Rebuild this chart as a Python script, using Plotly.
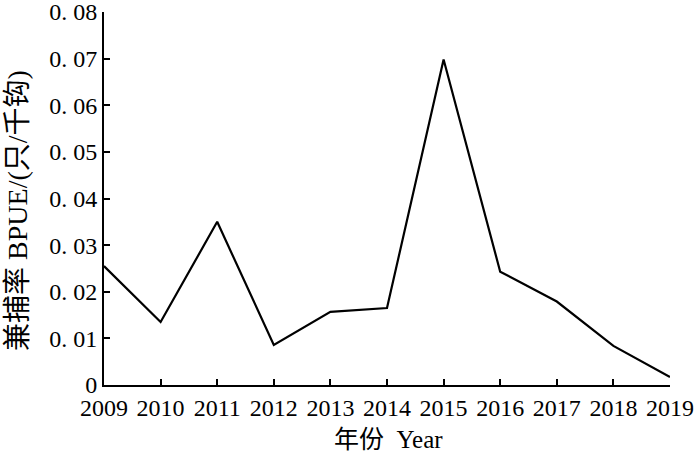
import plotly.graph_objects as go

# bycatch rate per year
years = [2009, 2010, 2011, 2012, 2013, 2014, 2015, 2016, 2017, 2018, 2019]
bpue = [0.0255, 0.0135, 0.0350, 0.0086, 0.0157, 0.0165, 0.0698, 0.0243, 0.0179, 0.0084, 0.0017]

ytick_vals = [0, 0.01, 0.02, 0.03, 0.04, 0.05, 0.06, 0.07, 0.08]
ytick_text = ["0", "0. 01", "0. 02", "0. 03", "0. 04", "0. 05", "0. 06", "0. 07", "0. 08"]

font_family = "Liberation Serif, Noto Sans CJK SC, serif"

fig = go.Figure()
fig.add_trace(go.Scatter(x=years, y=bpue, mode="lines",
                         line=dict(color="black", width=2.2), showlegend=False))

fig.update_layout(
    width=700, height=454,
    margin=dict(l=104, r=30, t=12, b=69),
    paper_bgcolor="white", plot_bgcolor="white",
    font=dict(family=font_family, size=24, color="black"),
)
fig.update_xaxes(
    range=[2009, 2019], tickvals=years, showgrid=False, zeroline=False,
    showline=True, linecolor="black", linewidth=2, automargin=False,
    ticks="inside", ticklen=6, tickwidth=2, tickcolor="black",
    tickfont=dict(size=24), ticklabeloverflow="allow",
)
fig.update_yaxes(
    range=[0, 0.08], tickvals=ytick_vals, ticktext=ytick_text,
    showgrid=False, zeroline=False, automargin=False,
    showline=True, linecolor="black", linewidth=2,
    ticks="inside", ticklen=6, tickwidth=2, tickcolor="black",
    tickfont=dict(size=24), ticklabeloverflow="allow",
)

# axis titles as annotations so the plot area stays fixed
fig.add_annotation(text="年份  Year", xref="paper", yref="paper",
                   x=0.502, y=-0.145, xanchor="center", yanchor="middle",
                   showarrow=False, font=dict(size=25))
fig.add_annotation(text="兼捕率 BPUE/(只/千钩)", xref="paper", yref="paper",
                   x=-0.154, y=0.469, xanchor="center", yanchor="middle",
                   textangle=-90, showarrow=False, font=dict(size=28))

# drop the default 8px body margin so the figure fills the window
fig.write_html("out.html", config={"displayModeBar": False},
               post_script="document.body.style.margin='0';")
